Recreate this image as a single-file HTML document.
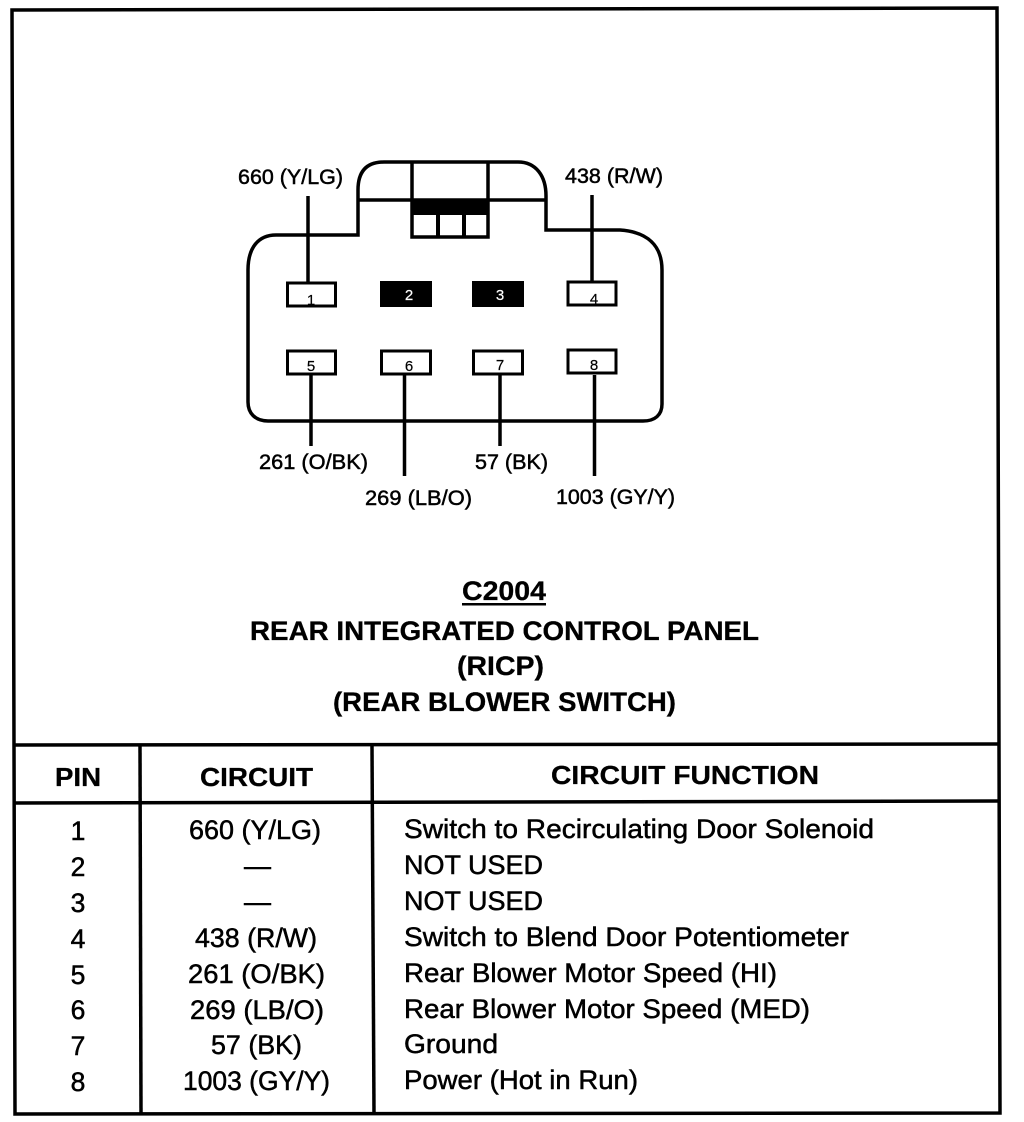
<!DOCTYPE html>
<html><head><meta charset="utf-8"><style>
html,body{margin:0;padding:0;background:#fff}
svg{display:block}
text{font-family:"Liberation Sans",sans-serif;fill:#000}
.l{font-size:21px;stroke:#000;stroke-width:.5px}
.b{font-size:27px;font-weight:bold;stroke:#000;stroke-width:.3px}
.h{font-size:26px;font-weight:bold;stroke:#000;stroke-width:.3px}
.t{font-size:26.5px;stroke:#000;stroke-width:.5px}
.n{font-size:15px;stroke:#000;stroke-width:.2px}
</style></head><body>
<svg width="1024" height="1122" viewBox="0 0 1024 1122" xmlns="http://www.w3.org/2000/svg">
<rect width="1024" height="1122" fill="#fff"/>
<g fill="none" stroke="#000">
<path d="M12 10L997 8L1000 1113L15 1114Z" stroke-width="3.5"/>
<path d="M14 745L999 744" stroke-width="3.5"/>
<path d="M14 803L999 801" stroke-width="3.5"/>
<path d="M140 746L141 1113" stroke-width="3.5"/>
<path d="M372 746L374 1113" stroke-width="3.5"/>
<path d="M358 200V190C358 172 366 162 384 162H518C536 162 546 176 546 196V230H620C648 232 662 246 662 270V404C662 415 655 421 643 421H268C255 421 248 413 248 402V270C248 248 258 235 276 235H358V200" stroke-width="3.5"/>
<path d="M358 200H546" stroke-width="3.5"/>
<path d="M412 162V237H488V162" stroke-width="3.5"/>
<path d="M438 214V237M464 214V237" stroke-width="4"/>
<path d="M308 196V282M592 195V281M311 375V446M404.500 375V476M500 375V446M594.500 375V476" stroke-width="3.500"/>
<g stroke-width="3">
<rect x="287.500" y="283" width="48" height="23"/>
<rect x="568" y="282" width="48" height="23"/>
<rect x="287.500" y="351" width="48" height="23"/>
<rect x="381.500" y="351" width="49" height="23"/>
<rect x="473.500" y="351" width="49" height="23"/>
<rect x="568" y="350" width="48" height="23"/>
</g>
</g>
<rect x="412" y="200" width="76" height="15" fill="#000"/>
<rect x="380" y="281" width="52" height="26" fill="#000"/>
<rect x="472" y="281" width="52" height="26" fill="#000"/>
<g class="n" text-anchor="middle">
<text x="311" y="305">1</text>
<text x="409" y="300" style="fill:#fff;stroke:#fff">2</text>
<text x="500" y="300" style="fill:#fff;stroke:#fff">3</text>
<text x="594" y="304">4</text>
<text x="311" y="371">5</text>
<text x="409" y="371">6</text>
<text x="500" y="370">7</text>
<text x="594" y="370">8</text>
</g>
<g class="l">
<text x="238" y="184" textLength="105" lengthAdjust="spacingAndGlyphs">660 (Y/LG)</text>
<text x="565" y="183" textLength="98" lengthAdjust="spacingAndGlyphs">438 (R/W)</text>
<text x="259" y="469" textLength="109" lengthAdjust="spacingAndGlyphs">261 (O/BK)</text>
<text x="475" y="469" textLength="73" lengthAdjust="spacingAndGlyphs">57 (BK)</text>
<text x="365" y="505" textLength="107" lengthAdjust="spacingAndGlyphs">269 (LB/O)</text>
<text x="556" y="504" textLength="119" lengthAdjust="spacingAndGlyphs">1003 (GY/Y)</text>
</g>
<g class="b">
<text x="462" y="600" textLength="84" lengthAdjust="spacingAndGlyphs">C2004</text>
<text x="250" y="640" textLength="509" lengthAdjust="spacingAndGlyphs">REAR INTEGRATED CONTROL PANEL</text>
<text x="457" y="675" textLength="87" lengthAdjust="spacingAndGlyphs">(RICP)</text>
<text x="333" y="711" textLength="343" lengthAdjust="spacingAndGlyphs">(REAR BLOWER SWITCH)</text>
</g>
<rect x="462" y="603" width="84" height="2.500" fill="#000"/>
<g class="h">
<text x="55" y="786" textLength="46" lengthAdjust="spacingAndGlyphs">PIN</text>
<text x="200" y="786" textLength="113" lengthAdjust="spacingAndGlyphs">CIRCUIT</text>
<text x="551" y="784" textLength="268" lengthAdjust="spacingAndGlyphs">CIRCUIT FUNCTION</text>
</g>
<g class="t" text-anchor="middle">
<text x="78" y="840">1</text>
<text x="78" y="876">2</text>
<text x="78" y="912">3</text>
<text x="78" y="948">4</text>
<text x="78" y="984">5</text>
<text x="78" y="1019">6</text>
<text x="78" y="1055">7</text>
<text x="78" y="1091">8</text>
</g>
<g class="t">
<text x="189" y="839" textLength="132" lengthAdjust="spacingAndGlyphs">660 (Y/LG)</text>
<text x="244" y="875" textLength="27" lengthAdjust="spacingAndGlyphs">—</text>
<text x="244" y="911" textLength="27" lengthAdjust="spacingAndGlyphs">—</text>
<text x="195" y="947" textLength="122" lengthAdjust="spacingAndGlyphs">438 (R/W)</text>
<text x="188" y="983" textLength="137" lengthAdjust="spacingAndGlyphs">261 (O/BK)</text>
<text x="190" y="1019" textLength="134" lengthAdjust="spacingAndGlyphs">269 (LB/O)</text>
<text x="211" y="1054" textLength="91" lengthAdjust="spacingAndGlyphs">57 (BK)</text>
<text x="183" y="1090" textLength="147" lengthAdjust="spacingAndGlyphs">1003 (GY/Y)</text>
<text x="404" y="838" textLength="470" lengthAdjust="spacingAndGlyphs">Switch to Recirculating Door Solenoid</text>
<text x="404" y="874" textLength="139" lengthAdjust="spacingAndGlyphs">NOT USED</text>
<text x="404" y="910" textLength="139" lengthAdjust="spacingAndGlyphs">NOT USED</text>
<text x="404" y="946" textLength="445" lengthAdjust="spacingAndGlyphs">Switch to Blend Door Potentiometer</text>
<text x="404" y="982" textLength="373" lengthAdjust="spacingAndGlyphs">Rear Blower Motor Speed (HI)</text>
<text x="404" y="1018" textLength="406" lengthAdjust="spacingAndGlyphs">Rear Blower Motor Speed (MED)</text>
<text x="404" y="1053" textLength="94" lengthAdjust="spacingAndGlyphs">Ground</text>
<text x="404" y="1089" textLength="234" lengthAdjust="spacingAndGlyphs">Power (Hot in Run)</text>
</g>
</svg>
</body></html>
